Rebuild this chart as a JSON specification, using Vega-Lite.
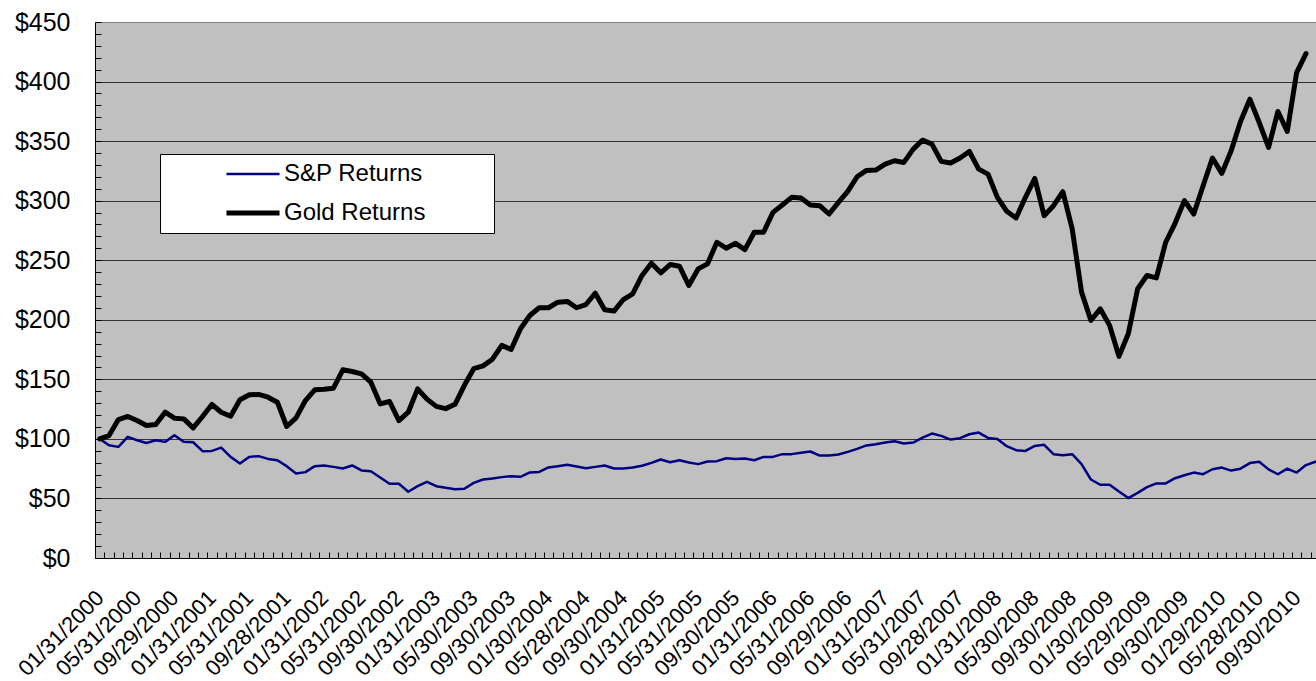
{
  "$schema": "https://vega.github.io/schema/vega-lite/v6.json",
  "width": 1221,
  "height": 536,
  "autosize": "none",
  "padding": {"left": 95, "top": 22, "right": 0, "bottom": 123},
  "background": "#ffffff",
  "config": {
    "view": {"fill": "#C0C0C0", "stroke": null},
    "font": "Liberation Sans"
  },
  "data": {"values": [
    {"date":"01/31/2000","series":"S&P Returns","value":100},
    {"date":"02/29/2000","series":"S&P Returns","value":94.7},
    {"date":"03/31/2000","series":"S&P Returns","value":93.3},
    {"date":"04/28/2000","series":"S&P Returns","value":101.7},
    {"date":"05/31/2000","series":"S&P Returns","value":98.9},
    {"date":"06/30/2000","series":"S&P Returns","value":96.6},
    {"date":"07/31/2000","series":"S&P Returns","value":98.9},
    {"date":"08/31/2000","series":"S&P Returns","value":97.5},
    {"date":"09/29/2000","series":"S&P Returns","value":103.1},
    {"date":"10/31/2000","series":"S&P Returns","value":97.5},
    {"date":"11/30/2000","series":"S&P Returns","value":97.2},
    {"date":"12/29/2000","series":"S&P Returns","value":89.7},
    {"date":"01/31/2001","series":"S&P Returns","value":89.9},
    {"date":"02/28/2001","series":"S&P Returns","value":92.7},
    {"date":"03/30/2001","series":"S&P Returns","value":84.9},
    {"date":"04/30/2001","series":"S&P Returns","value":79.3},
    {"date":"05/31/2001","series":"S&P Returns","value":84.9},
    {"date":"06/29/2001","series":"S&P Returns","value":85.5},
    {"date":"07/31/2001","series":"S&P Returns","value":83.2},
    {"date":"08/31/2001","series":"S&P Returns","value":82.1},
    {"date":"09/28/2001","series":"S&P Returns","value":77.1},
    {"date":"10/31/2001","series":"S&P Returns","value":71},
    {"date":"11/30/2001","series":"S&P Returns","value":72.1},
    {"date":"12/31/2001","series":"S&P Returns","value":77.1},
    {"date":"01/31/2002","series":"S&P Returns","value":77.7},
    {"date":"02/28/2002","series":"S&P Returns","value":76.5},
    {"date":"03/28/2002","series":"S&P Returns","value":75.1},
    {"date":"04/30/2002","series":"S&P Returns","value":77.7},
    {"date":"05/31/2002","series":"S&P Returns","value":73.5},
    {"date":"06/28/2002","series":"S&P Returns","value":72.9},
    {"date":"07/31/2002","series":"S&P Returns","value":67.6},
    {"date":"08/30/2002","series":"S&P Returns","value":62.3},
    {"date":"09/30/2002","series":"S&P Returns","value":62.3},
    {"date":"10/31/2002","series":"S&P Returns","value":55.6},
    {"date":"11/29/2002","series":"S&P Returns","value":60.3},
    {"date":"12/31/2002","series":"S&P Returns","value":64},
    {"date":"01/31/2003","series":"S&P Returns","value":60.3},
    {"date":"02/28/2003","series":"S&P Returns","value":58.9},
    {"date":"03/31/2003","series":"S&P Returns","value":57.8},
    {"date":"04/30/2003","series":"S&P Returns","value":58.1},
    {"date":"05/30/2003","series":"S&P Returns","value":63.1},
    {"date":"06/30/2003","series":"S&P Returns","value":65.9},
    {"date":"07/31/2003","series":"S&P Returns","value":66.8},
    {"date":"08/29/2003","series":"S&P Returns","value":67.9},
    {"date":"09/30/2003","series":"S&P Returns","value":68.7},
    {"date":"10/31/2003","series":"S&P Returns","value":68.2},
    {"date":"11/28/2003","series":"S&P Returns","value":71.8},
    {"date":"12/31/2003","series":"S&P Returns","value":72.3},
    {"date":"01/30/2004","series":"S&P Returns","value":76},
    {"date":"02/27/2004","series":"S&P Returns","value":77.1},
    {"date":"03/31/2004","series":"S&P Returns","value":78.2},
    {"date":"04/30/2004","series":"S&P Returns","value":76.8},
    {"date":"05/28/2004","series":"S&P Returns","value":75.4},
    {"date":"06/30/2004","series":"S&P Returns","value":76.5},
    {"date":"07/30/2004","series":"S&P Returns","value":77.7},
    {"date":"08/31/2004","series":"S&P Returns","value":75.1},
    {"date":"09/30/2004","series":"S&P Returns","value":75.1},
    {"date":"10/29/2004","series":"S&P Returns","value":76},
    {"date":"11/30/2004","series":"S&P Returns","value":77.4},
    {"date":"12/31/2004","series":"S&P Returns","value":79.9},
    {"date":"01/31/2005","series":"S&P Returns","value":82.7},
    {"date":"02/28/2005","series":"S&P Returns","value":80.4},
    {"date":"03/31/2005","series":"S&P Returns","value":82.1},
    {"date":"04/29/2005","series":"S&P Returns","value":80.2},
    {"date":"05/31/2005","series":"S&P Returns","value":78.8},
    {"date":"06/30/2005","series":"S&P Returns","value":81},
    {"date":"07/29/2005","series":"S&P Returns","value":81.3},
    {"date":"08/31/2005","series":"S&P Returns","value":83.8},
    {"date":"09/30/2005","series":"S&P Returns","value":83.2},
    {"date":"10/31/2005","series":"S&P Returns","value":83.5},
    {"date":"11/30/2005","series":"S&P Returns","value":82.1},
    {"date":"12/30/2005","series":"S&P Returns","value":84.9},
    {"date":"01/31/2006","series":"S&P Returns","value":84.9},
    {"date":"02/28/2006","series":"S&P Returns","value":87.2},
    {"date":"03/31/2006","series":"S&P Returns","value":87.2},
    {"date":"04/28/2006","series":"S&P Returns","value":88.3},
    {"date":"05/31/2006","series":"S&P Returns","value":89.4},
    {"date":"06/30/2006","series":"S&P Returns","value":86},
    {"date":"07/31/2006","series":"S&P Returns","value":86},
    {"date":"08/31/2006","series":"S&P Returns","value":86.9},
    {"date":"09/29/2006","series":"S&P Returns","value":89.1},
    {"date":"10/31/2006","series":"S&P Returns","value":91.6},
    {"date":"11/30/2006","series":"S&P Returns","value":94.5},
    {"date":"12/29/2006","series":"S&P Returns","value":95.5},
    {"date":"01/31/2007","series":"S&P Returns","value":96.9},
    {"date":"02/28/2007","series":"S&P Returns","value":98},
    {"date":"03/30/2007","series":"S&P Returns","value":96.1},
    {"date":"04/30/2007","series":"S&P Returns","value":96.9},
    {"date":"05/31/2007","series":"S&P Returns","value":101.1},
    {"date":"06/29/2007","series":"S&P Returns","value":104.5},
    {"date":"07/31/2007","series":"S&P Returns","value":102.5},
    {"date":"08/31/2007","series":"S&P Returns","value":99.4},
    {"date":"09/28/2007","series":"S&P Returns","value":100.6},
    {"date":"10/31/2007","series":"S&P Returns","value":103.9},
    {"date":"11/30/2007","series":"S&P Returns","value":105.3},
    {"date":"12/31/2007","series":"S&P Returns","value":100.8},
    {"date":"01/31/2008","series":"S&P Returns","value":100},
    {"date":"02/29/2008","series":"S&P Returns","value":93.9},
    {"date":"03/31/2008","series":"S&P Returns","value":90.5},
    {"date":"04/30/2008","series":"S&P Returns","value":89.9},
    {"date":"05/30/2008","series":"S&P Returns","value":94.1},
    {"date":"06/30/2008","series":"S&P Returns","value":95},
    {"date":"07/31/2008","series":"S&P Returns","value":87.2},
    {"date":"08/29/2008","series":"S&P Returns","value":86.3},
    {"date":"09/30/2008","series":"S&P Returns","value":87.2},
    {"date":"10/31/2008","series":"S&P Returns","value":78.8},
    {"date":"11/28/2008","series":"S&P Returns","value":65.9},
    {"date":"12/31/2008","series":"S&P Returns","value":61.5},
    {"date":"01/30/2009","series":"S&P Returns","value":61.5},
    {"date":"02/27/2009","series":"S&P Returns","value":55.9},
    {"date":"03/31/2009","series":"S&P Returns","value":50.3},
    {"date":"04/30/2009","series":"S&P Returns","value":54.7},
    {"date":"05/29/2009","series":"S&P Returns","value":59.5},
    {"date":"06/30/2009","series":"S&P Returns","value":62.6},
    {"date":"07/31/2009","series":"S&P Returns","value":62.6},
    {"date":"08/31/2009","series":"S&P Returns","value":67},
    {"date":"09/30/2009","series":"S&P Returns","value":69.5},
    {"date":"10/30/2009","series":"S&P Returns","value":71.7},
    {"date":"11/30/2009","series":"S&P Returns","value":70.4},
    {"date":"12/31/2009","series":"S&P Returns","value":74.5},
    {"date":"01/29/2010","series":"S&P Returns","value":75.9},
    {"date":"02/26/2010","series":"S&P Returns","value":73.4},
    {"date":"03/31/2010","series":"S&P Returns","value":75},
    {"date":"04/30/2010","series":"S&P Returns","value":79.7},
    {"date":"05/28/2010","series":"S&P Returns","value":80.8},
    {"date":"06/30/2010","series":"S&P Returns","value":74.4},
    {"date":"07/30/2010","series":"S&P Returns","value":70.3},
    {"date":"08/31/2010","series":"S&P Returns","value":75},
    {"date":"09/30/2010","series":"S&P Returns","value":71.7},
    {"date":"10/29/2010","series":"S&P Returns","value":78},
    {"date":"11/30/2010","series":"S&P Returns","value":80.8},
    {"date":"01/31/2000","series":"Gold Returns","value":100},
    {"date":"02/29/2000","series":"Gold Returns","value":102.8},
    {"date":"03/31/2000","series":"Gold Returns","value":116.2},
    {"date":"04/28/2000","series":"Gold Returns","value":118.8},
    {"date":"05/31/2000","series":"Gold Returns","value":115.4},
    {"date":"06/30/2000","series":"Gold Returns","value":111.2},
    {"date":"07/31/2000","series":"Gold Returns","value":112},
    {"date":"08/31/2000","series":"Gold Returns","value":122.4},
    {"date":"09/29/2000","series":"Gold Returns","value":117.4},
    {"date":"10/31/2000","series":"Gold Returns","value":116.8},
    {"date":"11/30/2000","series":"Gold Returns","value":109.2},
    {"date":"12/29/2000","series":"Gold Returns","value":118.8},
    {"date":"01/31/2001","series":"Gold Returns","value":128.9},
    {"date":"02/28/2001","series":"Gold Returns","value":122.4},
    {"date":"03/30/2001","series":"Gold Returns","value":119},
    {"date":"04/30/2001","series":"Gold Returns","value":132.8},
    {"date":"05/31/2001","series":"Gold Returns","value":137},
    {"date":"06/29/2001","series":"Gold Returns","value":137.3},
    {"date":"07/31/2001","series":"Gold Returns","value":135},
    {"date":"08/31/2001","series":"Gold Returns","value":130.8},
    {"date":"09/28/2001","series":"Gold Returns","value":110.4},
    {"date":"10/31/2001","series":"Gold Returns","value":117.6},
    {"date":"11/30/2001","series":"Gold Returns","value":132.2},
    {"date":"12/31/2001","series":"Gold Returns","value":141.2},
    {"date":"01/31/2002","series":"Gold Returns","value":141.7},
    {"date":"02/28/2002","series":"Gold Returns","value":142.6},
    {"date":"03/28/2002","series":"Gold Returns","value":158},
    {"date":"04/30/2002","series":"Gold Returns","value":156.6},
    {"date":"05/31/2002","series":"Gold Returns","value":154.6},
    {"date":"06/28/2002","series":"Gold Returns","value":147.6},
    {"date":"07/31/2002","series":"Gold Returns","value":129.4},
    {"date":"08/30/2002","series":"Gold Returns","value":131.4},
    {"date":"09/30/2002","series":"Gold Returns","value":115.4},
    {"date":"10/31/2002","series":"Gold Returns","value":122.4},
    {"date":"11/29/2002","series":"Gold Returns","value":142},
    {"date":"12/31/2002","series":"Gold Returns","value":133.4},
    {"date":"01/31/2003","series":"Gold Returns","value":127.3},
    {"date":"02/28/2003","series":"Gold Returns","value":125.4},
    {"date":"03/31/2003","series":"Gold Returns","value":129},
    {"date":"04/30/2003","series":"Gold Returns","value":145},
    {"date":"05/30/2003","series":"Gold Returns","value":158.9},
    {"date":"06/30/2003","series":"Gold Returns","value":161.3},
    {"date":"07/31/2003","series":"Gold Returns","value":166.9},
    {"date":"08/29/2003","series":"Gold Returns","value":178.5},
    {"date":"09/30/2003","series":"Gold Returns","value":175.1},
    {"date":"10/31/2003","series":"Gold Returns","value":192.5},
    {"date":"11/28/2003","series":"Gold Returns","value":203.6},
    {"date":"12/31/2003","series":"Gold Returns","value":210.1},
    {"date":"01/30/2004","series":"Gold Returns","value":210.1},
    {"date":"02/27/2004","series":"Gold Returns","value":214.8},
    {"date":"03/31/2004","series":"Gold Returns","value":215.4},
    {"date":"04/30/2004","series":"Gold Returns","value":210.1},
    {"date":"05/28/2004","series":"Gold Returns","value":212.8},
    {"date":"06/30/2004","series":"Gold Returns","value":222.3},
    {"date":"07/30/2004","series":"Gold Returns","value":208.4},
    {"date":"08/31/2004","series":"Gold Returns","value":207.3},
    {"date":"09/30/2004","series":"Gold Returns","value":217},
    {"date":"10/29/2004","series":"Gold Returns","value":221.8},
    {"date":"11/30/2004","series":"Gold Returns","value":237.2},
    {"date":"12/31/2004","series":"Gold Returns","value":247.5},
    {"date":"01/31/2005","series":"Gold Returns","value":239.4},
    {"date":"02/28/2005","series":"Gold Returns","value":246.4},
    {"date":"03/31/2005","series":"Gold Returns","value":245},
    {"date":"04/29/2005","series":"Gold Returns","value":228.8},
    {"date":"05/31/2005","series":"Gold Returns","value":242.7},
    {"date":"06/30/2005","series":"Gold Returns","value":246.9},
    {"date":"07/29/2005","series":"Gold Returns","value":265.1},
    {"date":"08/31/2005","series":"Gold Returns","value":260.1},
    {"date":"09/30/2005","series":"Gold Returns","value":264.2},
    {"date":"10/31/2005","series":"Gold Returns","value":258.9},
    {"date":"11/30/2005","series":"Gold Returns","value":273.5},
    {"date":"12/30/2005","series":"Gold Returns","value":273.5},
    {"date":"01/31/2006","series":"Gold Returns","value":290.2},
    {"date":"02/28/2006","series":"Gold Returns","value":296.4},
    {"date":"03/31/2006","series":"Gold Returns","value":302.8},
    {"date":"04/28/2006","series":"Gold Returns","value":302.2},
    {"date":"05/31/2006","series":"Gold Returns","value":296.4},
    {"date":"06/30/2006","series":"Gold Returns","value":295.8},
    {"date":"07/31/2006","series":"Gold Returns","value":288.8},
    {"date":"08/31/2006","series":"Gold Returns","value":298.6},
    {"date":"09/29/2006","series":"Gold Returns","value":307.8},
    {"date":"10/31/2006","series":"Gold Returns","value":320.1},
    {"date":"11/30/2006","series":"Gold Returns","value":325.4},
    {"date":"12/29/2006","series":"Gold Returns","value":325.7},
    {"date":"01/31/2007","series":"Gold Returns","value":330.7},
    {"date":"02/28/2007","series":"Gold Returns","value":333.5},
    {"date":"03/30/2007","series":"Gold Returns","value":332.1},
    {"date":"04/30/2007","series":"Gold Returns","value":343.3},
    {"date":"05/31/2007","series":"Gold Returns","value":350.8},
    {"date":"06/29/2007","series":"Gold Returns","value":347.5},
    {"date":"07/31/2007","series":"Gold Returns","value":333},
    {"date":"08/31/2007","series":"Gold Returns","value":331.6},
    {"date":"09/28/2007","series":"Gold Returns","value":335.8},
    {"date":"10/31/2007","series":"Gold Returns","value":341.3},
    {"date":"11/30/2007","series":"Gold Returns","value":326.5},
    {"date":"12/31/2007","series":"Gold Returns","value":322.3},
    {"date":"01/31/2008","series":"Gold Returns","value":302.8},
    {"date":"02/29/2008","series":"Gold Returns","value":291.1},
    {"date":"03/31/2008","series":"Gold Returns","value":285.5},
    {"date":"04/30/2008","series":"Gold Returns","value":302.8},
    {"date":"05/30/2008","series":"Gold Returns","value":318.7},
    {"date":"06/30/2008","series":"Gold Returns","value":287.4},
    {"date":"07/31/2008","series":"Gold Returns","value":295.8},
    {"date":"08/29/2008","series":"Gold Returns","value":307.5},
    {"date":"09/30/2008","series":"Gold Returns","value":276.3},
    {"date":"10/31/2008","series":"Gold Returns","value":223.2},
    {"date":"11/28/2008","series":"Gold Returns","value":199.4},
    {"date":"12/31/2008","series":"Gold Returns","value":209.2},
    {"date":"01/30/2009","series":"Gold Returns","value":195.3},
    {"date":"02/27/2009","series":"Gold Returns","value":169.3},
    {"date":"03/31/2009","series":"Gold Returns","value":188.3},
    {"date":"04/30/2009","series":"Gold Returns","value":226},
    {"date":"05/29/2009","series":"Gold Returns","value":237.2},
    {"date":"06/30/2009","series":"Gold Returns","value":235.2},
    {"date":"07/31/2009","series":"Gold Returns","value":265.1},
    {"date":"08/31/2009","series":"Gold Returns","value":281},
    {"date":"09/30/2009","series":"Gold Returns","value":300},
    {"date":"10/30/2009","series":"Gold Returns","value":288.8},
    {"date":"11/30/2009","series":"Gold Returns","value":312.6},
    {"date":"12/31/2009","series":"Gold Returns","value":335.8},
    {"date":"01/29/2010","series":"Gold Returns","value":322.9},
    {"date":"02/26/2010","series":"Gold Returns","value":341.9},
    {"date":"03/31/2010","series":"Gold Returns","value":366.5},
    {"date":"04/30/2010","series":"Gold Returns","value":385.2},
    {"date":"05/28/2010","series":"Gold Returns","value":365.6},
    {"date":"06/30/2010","series":"Gold Returns","value":344.7},
    {"date":"07/30/2010","series":"Gold Returns","value":374.9},
    {"date":"08/31/2010","series":"Gold Returns","value":358.1},
    {"date":"09/30/2010","series":"Gold Returns","value":407.5},
    {"date":"10/29/2010","series":"Gold Returns","value":423.5}
  ]},
  "mark": {"type": "line", "strokeJoin": "round", "strokeCap": "round"},
  "encoding": {
    "x": {
      "field": "date", "type": "ordinal", "sort": null, "bandPosition": 0.5,
      "scale": {"type": "band", "paddingInner": 0, "paddingOuter": 0, "range": [0, 1225]},
      "axis": {
        "title": null, "grid": false, "tickBand": "extent",
        "labelExpr": "indexof(['01','05','09'], substring(datum.value,0,2)) >= 0 ? datum.value : ''",
        "labelOverlap": false, "labelAngle": -45, "labelAlign": "right", "labelBaseline": "middle",
        "labelFontSize": 22, "labelColor": "#000000", "labelPadding": 42, "labelFont": "Liberation Sans",
        "tickSize": -6, "tickColor": "#000000", "domainColor": "#000000", "domainWidth": 1, "tickWidth": 1
      }
    },
    "y": {
      "field": "value", "type": "quantitative",
      "scale": {"domain": [0, 450], "nice": false, "zero": true},
      "axis": {
        "title": null,
        "values": [0,10,20,30,40,50,60,70,80,90,100,110,120,130,140,150,160,170,180,190,200,210,220,230,240,250,260,270,280,290,300,310,320,330,340,350,360,370,380,390,400,410,420,430,440,450],
        "labelExpr": "datum.value % 50 === 0 ? '$' + datum.value : ''",
        "labelOverlap": false, "labelFontSize": 25, "labelColor": "#000000", "labelPadding": 31, "labelFont": "Liberation Sans",
        "grid": true,
        "gridColor": {"condition": {"test": "datum.value === 450", "value": "#808080"}, "value": "#333333"},
        "gridOpacity": {"condition": {"test": "datum.value % 50 === 0", "value": 1}, "value": 0},
        "gridWidth": 1,
        "tickSize": -6, "tickColor": "#000000", "domainColor": "#000000", "domainWidth": 1, "tickWidth": 1
      }
    },
    "color": {
      "field": "series", "type": "nominal",
      "scale": {"domain": ["S&P Returns", "Gold Returns"], "range": ["#000080", "#000000"]},
      "legend": {
        "title": "\u00a0", "titleOrient": "right", "titlePadding": 61, "titleFontSize": 24,
        "orient": "none", "legendX": 65, "legendY": 132,
        "fillColor": "#ffffff", "strokeColor": "#000000", "padding": 8,
        "symbolType": "M-4,0H4", "symbolSize": 176, "symbolOffset": 73, "labelOffset": 19,
        "labelFontSize": 24, "labelColor": "#000000", "labelFont": "Liberation Sans", "rowPadding": 15,
        "labelLimit": 0
      }
    },
    "strokeWidth": {
      "field": "series", "type": "nominal",
      "scale": {"domain": ["S&P Returns", "Gold Returns"], "range": [2.5, 5]}
    }
  }
}
